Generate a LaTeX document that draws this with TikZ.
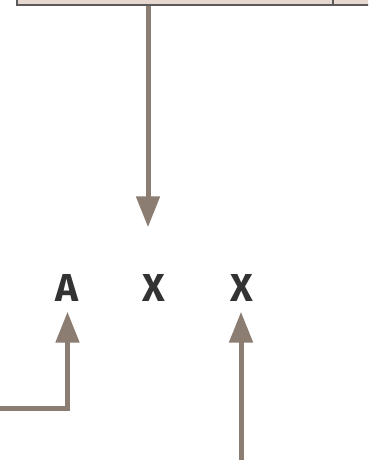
\documentclass[tikz,border=0pt]{standalone}
\usepackage{fontspec}
\newfontfamily\letterfont{Fira Sans}
\usetikzlibrary{arrows.meta}
\definecolor{arrowc}{HTML}{8C7D72}
\definecolor{boxfill}{HTML}{E6D8CF}
\definecolor{boxline}{HTML}{5A5A5A}
\definecolor{letterc}{HTML}{333333}
\tikzset{
  arr/.style={draw=arrowc, line width=5pt, -{Triangle[length=31pt,width=23pt]}},
  letter/.style={font=\letterfont\bfseries\fontsize{39}{39}\selectfont, text=letterc, inner sep=0pt, text height=27pt, text depth=0pt, anchor=base},
  topbox/.style={draw=boxline, fill=boxfill, line width=2pt}
}
\begin{document}
\begin{tikzpicture}[x=1pt,y=-1pt]
\useasboundingbox (0,0) rectangle (368,460);
\clip (0,0) rectangle (368,460);
\draw[topbox] (16.5,-30) rectangle (400,5.5);
\draw[boxline, line width=1.5pt] (333,-30) -- (333,5.5);
\coordinate (boxbot) at (148,6.5);
\node[letter] (a) at (67.5,301.5) {A};
\node[letter] (x1) at (154,301.5) {X};
\node[letter] (x2) at (241.5,301.5) {X};
\coordinate (leftend) at (-3,408);
\coordinate (rightend) at (241,463);
\draw[arr, shorten >=47pt] (boxbot) -- (boxbot |- x1.north);
\draw[arr, shorten >=10pt] (leftend) -| (a.south);
\draw[arr, shorten >=10pt] (rightend) -- (rightend |- x2.south);
\end{tikzpicture}
\end{document}
